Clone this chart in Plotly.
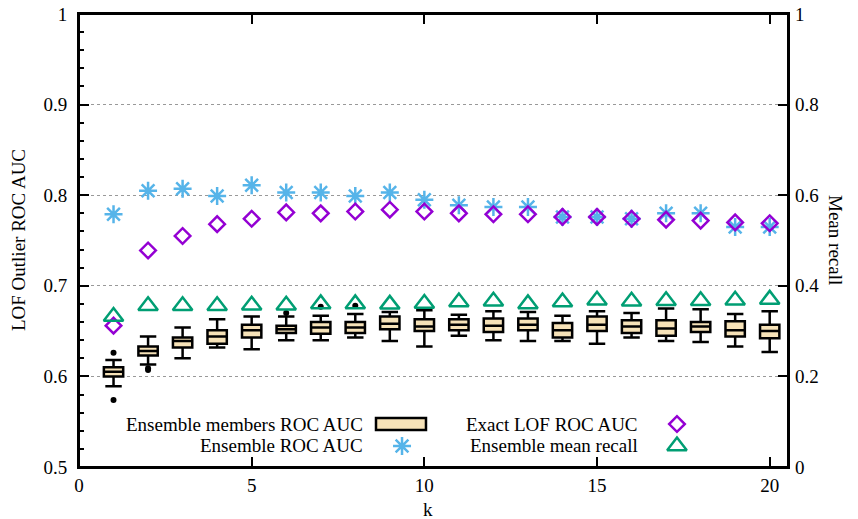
import plotly.graph_objects as go

# ---------------- data ----------------
k = list(range(1, 21))

ensemble_auc = [0.779, 0.805, 0.807, 0.799, 0.811, 0.803, 0.803, 0.799, 0.803, 0.795,
                0.789, 0.787, 0.787, 0.776, 0.776, 0.774, 0.780, 0.780, 0.765, 0.765]

exact_lof_auc = [0.656, 0.739, 0.755, 0.768, 0.774, 0.781, 0.780, 0.782, 0.784, 0.782,
                 0.780, 0.779, 0.779, 0.776, 0.776, 0.774, 0.773, 0.772, 0.770, 0.769]

mean_recall = [0.332, 0.356, 0.356, 0.356, 0.357, 0.357, 0.360, 0.360, 0.359, 0.361,
               0.364, 0.366, 0.360, 0.364, 0.368, 0.366, 0.367, 0.367, 0.368, 0.370]

box_upper = [0.618, 0.644, 0.654, 0.663, 0.666, 0.666, 0.667, 0.669, 0.671, 0.673,
             0.668, 0.672, 0.671, 0.667, 0.672, 0.670, 0.675, 0.674, 0.669, 0.672]
box_q3 = [0.610, 0.633, 0.643, 0.651, 0.657, 0.656, 0.660, 0.660, 0.666, 0.663,
          0.663, 0.664, 0.664, 0.659, 0.666, 0.662, 0.662, 0.660, 0.661, 0.657]
box_median = [0.605, 0.628, 0.639, 0.644, 0.651, 0.652, 0.654, 0.654, 0.658, 0.655,
              0.657, 0.656, 0.657, 0.651, 0.657, 0.655, 0.653, 0.655, 0.651, 0.650]
box_q1 = [0.600, 0.623, 0.632, 0.636, 0.643, 0.648, 0.647, 0.648, 0.652, 0.650,
          0.651, 0.649, 0.651, 0.643, 0.650, 0.648, 0.645, 0.649, 0.644, 0.642]
box_lower = [0.589, 0.613, 0.620, 0.632, 0.630, 0.640, 0.640, 0.643, 0.639, 0.633,
             0.645, 0.640, 0.639, 0.639, 0.636, 0.643, 0.639, 0.638, 0.633, 0.627]

outlier_k = [1, 1, 2, 2, 6, 7, 8]
outlier_val = [0.626, 0.574, 0.607, 0.609, 0.670, 0.677, 0.678]

x_ticks = [0, 5, 10, 15, 20]
y_left_ticks = [0.5, 0.6, 0.7, 0.8, 0.9, 1.0]
y_left_labels = ["0.5", "0.6", "0.7", "0.8", "0.9", "1"]
y_right_ticks = [0, 0.2, 0.4, 0.6, 0.8, 1.0]
y_right_labels = ["0", "0.2", "0.4", "0.6", "0.8", "1"]

legend_names = ["Ensemble members ROC AUC", "Ensemble ROC AUC",
                "Exact LOF ROC AUC", "Ensemble mean recall"]

# ---------------- styles ----------------
FONT = "Liberation Serif, Times New Roman, serif"
FS = 19
BOX_FILL = "#F6E2B8"
BLUE = "#56B4E9"
PURPLE = "#9400D3"
GREEN = "#009E73"

fig = go.Figure()

fig.add_trace(go.Box(
    x=k, q1=box_q1, median=box_median, q3=box_q3,
    lowerfence=box_lower, upperfence=box_upper,
    width=0.56, whiskerwidth=0.85, boxpoints=False,
    fillcolor=BOX_FILL, line=dict(color="black", width=2.5),
    showlegend=False, hoverinfo="skip"))

fig.add_trace(go.Scatter(
    x=outlier_k, y=outlier_val, mode="markers",
    marker=dict(symbol="circle", size=6, color="black"),
    showlegend=False))

fig.add_trace(go.Scatter(
    x=k, y=ensemble_auc, mode="markers",
    marker=dict(symbol="asterisk-open", size=15, color=BLUE,
                line=dict(color=BLUE, width=2.5)),
    showlegend=False))

fig.add_trace(go.Scatter(
    x=k, y=exact_lof_auc, mode="markers",
    marker=dict(symbol="diamond-open", size=12, color=PURPLE,
                line=dict(color=PURPLE, width=2.5)),
    showlegend=False))

fig.add_trace(go.Scatter(
    x=k, y=mean_recall, mode="markers", yaxis="y2",
    marker=dict(symbol="triangle-up-open", size=17, color=GREEN,
                line=dict(color=GREEN, width=2.5)),
    showlegend=False))

# ---------------- custom gnuplot-style legend (text then symbol) ----------------
row1, row2 = 0.0949, 0.0464
col1_text, col2_text = 0.4034, 0.7913
col1_sym, col2_sym = 0.4556, 0.8434

fig.add_trace(go.Scatter(
    x=[col1_sym], y=[row2], mode="markers", xaxis="x3", yaxis="y3",
    marker=dict(symbol="asterisk-open", size=15, color=BLUE,
                line=dict(color=BLUE, width=2.5)),
    showlegend=False, hoverinfo="skip"))
fig.add_trace(go.Scatter(
    x=[col2_sym], y=[row1], mode="markers", xaxis="x3", yaxis="y3",
    marker=dict(symbol="diamond-open", size=12, color=PURPLE,
                line=dict(color=PURPLE, width=2.5)),
    showlegend=False, hoverinfo="skip"))
fig.add_trace(go.Scatter(
    x=[col2_sym], y=[row2], mode="markers", xaxis="x3", yaxis="y3",
    marker=dict(symbol="triangle-up-open", size=17, color=GREEN,
                line=dict(color=GREEN, width=2.5)),
    showlegend=False, hoverinfo="skip"))

fig.add_shape(type="rect", xref="paper", yref="paper",
              x0=0.4189, x1=0.4894, y0=0.0817, y1=0.1082,
              fillcolor=BOX_FILL, line=dict(color="black", width=2.5))

# plot frame (gnuplot border)
fig.add_shape(type="rect", xref="paper", yref="paper", x0=0, x1=1, y0=0, y1=1,
              line=dict(color="black", width=2), fillcolor="rgba(0,0,0,0)", layer="above")

annots = [
    dict(text=legend_names[0], x=col1_text, y=row1),
    dict(text=legend_names[1], x=col1_text, y=row2),
    dict(text=legend_names[2], x=col2_text, y=row1),
    dict(text=legend_names[3], x=col2_text, y=row2),
]
for a in annots:
    fig.add_annotation(xref="paper", yref="paper", xanchor="right", yanchor="middle",
                       showarrow=False, font=dict(family=FONT, size=FS, color="black"), **a)

# axis titles
fig.add_annotation(text="LOF Outlier ROC AUC", xref="paper", yref="paper",
                   x=-0.0860, y=0.501, textangle=-90, showarrow=False,
                   xanchor="center", yanchor="middle",
                   font=dict(family=FONT, size=FS, color="black"))
fig.add_annotation(text="Mean recall", xref="paper", yref="paper",
                   x=1.0677, y=0.501, textangle=90, showarrow=False,
                   xanchor="center", yanchor="middle",
                   font=dict(family=FONT, size=FS, color="black"))
fig.add_annotation(text="k", xref="paper", yref="paper",
                   x=0.4922, y=-0.0949, showarrow=False,
                   xanchor="center", yanchor="middle",
                   font=dict(family=FONT, size=FS, color="black"))

fig.update_layout(
    width=850, height=511,
    margin=dict(l=71, r=70, t=6, b=52, autoexpand=False),
    plot_bgcolor="white", paper_bgcolor="white",
    font=dict(family=FONT, size=FS, color="black"),
    showlegend=False,
    xaxis=dict(range=[0, 20.53], tickvals=x_ticks, ticktext=[str(v) for v in x_ticks],
               ticks="inside", ticklen=10, tickwidth=2, tickcolor="black",
               showline=True, linecolor="black", linewidth=2, mirror="ticks",
               showgrid=False, zeroline=False, automargin=False,
               ticklabeloverflow="allow"),
    yaxis=dict(range=[0.5, 1.0], tickvals=y_left_ticks, ticktext=y_left_labels,
               ticks="inside", ticklen=10, tickwidth=2, tickcolor="black",
               minor=dict(dtick=0.02, ticks="inside", ticklen=5, tickwidth=1.5,
                          tickcolor="black", showgrid=False),
               showline=True, linecolor="black", linewidth=2, mirror=True,
               showgrid=True, gridcolor="#999999", griddash="dot", gridwidth=1.2,
               zeroline=False, ticklabelstandoff=6, automargin=False,
               ticklabeloverflow="allow"),
    yaxis2=dict(range=[0, 1.0], overlaying="y", side="right",
                tickvals=y_right_ticks, ticktext=y_right_labels,
                ticks="inside", ticklen=10, tickwidth=2, tickcolor="black",
                showline=False, showgrid=False, zeroline=False,
                ticklabelstandoff=6, automargin=False, ticklabeloverflow="allow"),
    xaxis3=dict(range=[0, 1], overlaying="x", visible=False, fixedrange=True),
    yaxis3=dict(range=[0, 1], overlaying="y", visible=False, fixedrange=True),
)

fig.write_html("out.html")
